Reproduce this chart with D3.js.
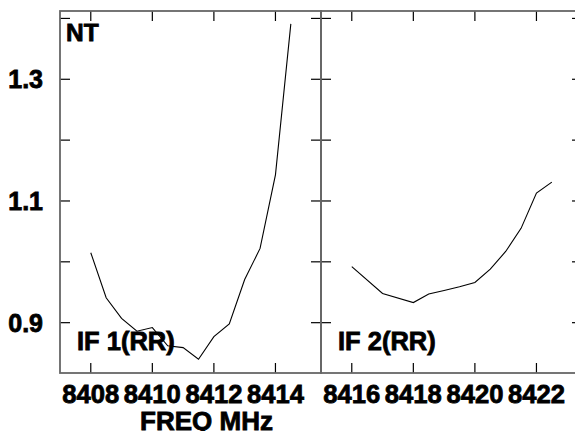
<!DOCTYPE html>
<html><head><meta charset="utf-8">
<script src="https://cdn.jsdelivr.net/npm/d3@7"></script>
<style>body{margin:0;background:#fff}svg{display:block}</style>
</head><body><svg id="c" width="575" height="431"></svg>
<script>
const if1Freq = [8408,8408.5,8409,8409.5,8410,8410.5,8411,8411.5,8412,8412.5,8413,8413.5,8414,8414.5];
const if1Vals = [1.015,0.941,0.907,0.886,0.892,0.862,0.859,0.840,0.877,0.898,0.971,1.022,1.143,1.391];
const if2Freq = [8416,8417,8418,8418.5,8419,8419.5,8420,8420.5,8421,8421.5,8422,8422.5];
const if2Vals = [0.992,0.948,0.933,0.947,0.953,0.959,0.966,0.988,1.017,1.055,1.113,1.131];
const if1Ticks = [8408,8410,8412,8414];
const if2Ticks = [8416,8418,8420,8422];
const yTicks = [0.9,1.0,1.1,1.2,1.3,1.4];
const yLabels = [0.9,1.1,1.3];
const panelLabels = ["IF 1(RR)","IF 2(RR)"];

(function(){
const svg = d3.select("#c");
const FONT = "'Liberation Sans', Arial, Helvetica, sans-serif";
function txt(sel){ return sel.append("text").attr("font-family",FONT).attr("font-weight","700").attr("fill","#000")
  .attr("stroke","#000").attr("stroke-width",0.8); }
const yTop=11, yBot=373;
const y = d3.scaleLinear().domain([0.8173,1.4122]).range([yBot,yTop]);
const panels = [
  {x: d3.scaleLinear().domain([8407,8415.48]).range([60,321]), f: if1Freq, v: if1Vals, t: if1Ticks, lab: panelLabels[0], lx: 77},
  {x: d3.scaleLinear().domain([8415,8423.48]).range([321,582]), f: if2Freq, v: if2Vals, t: if2Ticks, lab: panelLabels[1], lx: 338}
];
const tl = 10;
panels.forEach(p => {
  const [x0,x1] = p.x.range();
  const g = svg.append("g");
  p.t.forEach(t => {
    const xx = p.x(t);
    g.append("line").attr("x1",xx).attr("x2",xx).attr("y1",yTop).attr("y2",yTop+tl).attr("stroke","#000").attr("stroke-width",1.2);
    g.append("line").attr("x1",xx).attr("x2",xx).attr("y1",yBot).attr("y2",yBot-tl).attr("stroke","#000").attr("stroke-width",1.2);
    txt(g).attr("x",xx).attr("y",403).attr("text-anchor","middle").attr("font-size",26.5)
      .attr("textLength",57).attr("lengthAdjust","spacingAndGlyphs").text(t);
  });
  yTicks.forEach(t => {
    const yy = y(t);
    g.append("line").attr("x1",x0).attr("x2",x0+tl).attr("y1",yy).attr("y2",yy).attr("stroke","#000").attr("stroke-width",1.2);
    g.append("line").attr("x1",x1).attr("x2",x1-tl).attr("y1",yy).attr("y2",yy).attr("stroke","#000").attr("stroke-width",1.2);
  });
  g.append("rect").attr("x",x0).attr("y",yTop).attr("width",x1-x0).attr("height",yBot-yTop)
    .attr("fill","none").attr("stroke","#666").attr("stroke-width",1.8);
  const line = d3.line().x((d,i)=>p.x(p.f[i])).y(d=>y(d));
  g.append("path").attr("d",line(p.v)).attr("fill","none").attr("stroke","#000").attr("stroke-width",1.1);
  txt(g).attr("x",p.lx).attr("y",350).attr("font-size",25.5).text(p.lab);
});
yLabels.forEach(t => {
  txt(svg).attr("x",43).attr("y",y(t)).attr("dy","0.36em").attr("text-anchor","end").attr("font-size",25).text(d3.format(".1f")(t));
});
txt(svg).attr("x",66).attr("y",40.5).attr("font-size",24.5).text("NT");
txt(svg).attr("x",206.5).attr("y",430).attr("text-anchor","middle").attr("font-size",26).text("FREQ MHz");
})();
</script></body></html>
